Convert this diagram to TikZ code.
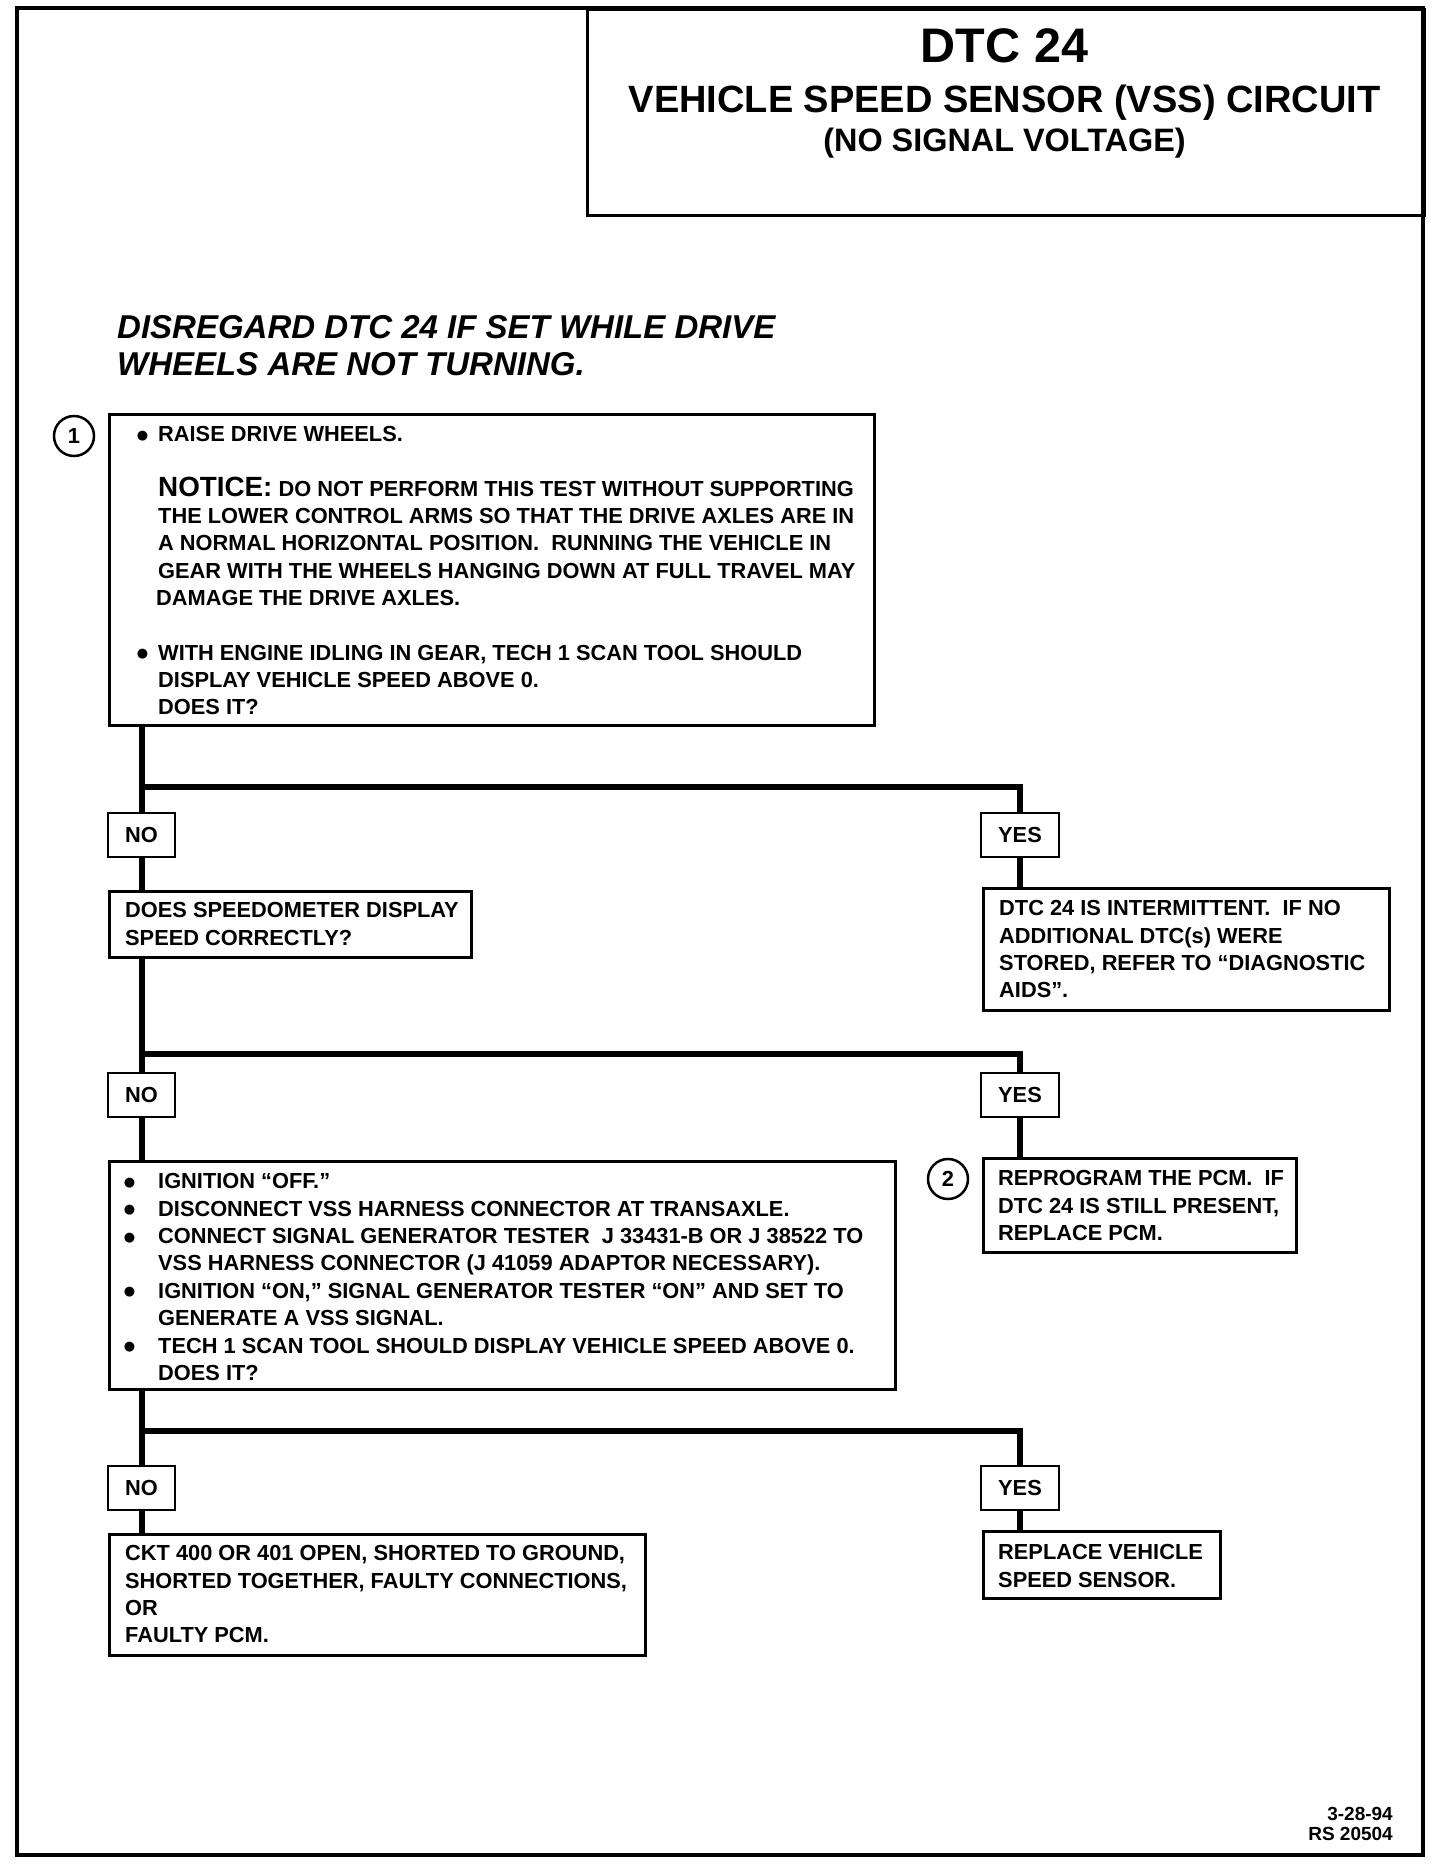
\documentclass[tikz,border=0pt]{standalone}
\usepackage{fontspec}
\setmainfont{Liberation Sans}
\newfontfamily\dotfont{DejaVu Sans}
\usepackage{tikz}
\usetikzlibrary{calc,positioning}
\newcommand\stepfont{\fontsize{21.8}{27.4}\selectfont\bfseries}
\newcommand\bigstep{\fontsize{27.8}{27.4}\selectfont}
\newcommand\bigdot{{\dotfont\fontsize{13}{27.4}\selectfont\raisebox{2.5pt}{●}}}
\newcommand\dotA{\llap{\bigdot\hspace{10pt}}}
\newcommand\dotB{\llap{\bigdot\hspace{23pt}}}
\tikzset{
  frame/.style={draw,line width=4pt},
  stepbox/.style={draw,line width=2.5pt,fill=white,inner sep=0pt,anchor=north west},
  steptext/.style={align=left,inner sep=0pt,anchor=north west,font=\stepfont},
  answer/.style={draw,line width=2.5pt,fill=white,inner xsep=17pt,inner ysep=0pt,
    minimum height=44pt,font=\stepfont},
  stepnum/.style={circle,draw,line width=2.5pt,minimum size=40pt,inner sep=0pt,font=\stepfont},
  flow/.style={line width=6pt,line join=miter},
  titletext/.style={anchor=base,inner sep=0pt,font=\bfseries}
}

\begin{document}
\begin{tikzpicture}[x=1pt,y=-1pt]
  \useasboundingbox (0,0) rectangle (1440,1866);
  \draw[frame] (17,8) rectangle (1423,1855);
  \node[draw,line width=3pt,anchor=north west,minimum width=837pt,minimum height=206pt] (title) at (586,8) {};
  \node[titletext,font=\fontsize{48.5}{50}\selectfont\bfseries] (dtc) at (1004.5,62.4) {DTC 24};
  \node[titletext,font=\fontsize{38}{40}\selectfont\bfseries] (vss) at (1004.5,112.6) {VEHICLE SPEED SENSOR (VSS) CIRCUIT};
  \node[titletext,font=\fontsize{32.4}{34}\selectfont\bfseries] (nosig) at (1004.5,151.6) {(NO SIGNAL VOLTAGE)};
  \node[align=left,inner sep=0pt,anchor=north west,font=\fontsize{33}{37}\selectfont\bfseries\itshape] (disregard) at (117,315)
    {DISREGARD DTC 24 IF SET WHILE DRIVE\\WHEELS ARE NOT TURNING.};

  % steps
  \node[stepbox,minimum width=765pt,minimum height=311pt] (raise) at (108,413) {};
  \node[steptext] (raisetxt) at ($(raise.north west)+(50,13.3)$) {%
    \dotA RAISE DRIVE WHEELS.\\[27pt]
    {\bigstep NOTICE:} DO NOT PERFORM THIS TEST WITHOUT SUPPORTING\\
    THE LOWER CONTROL ARMS SO THAT THE DRIVE AXLES ARE IN\\
    A NORMAL HORIZONTAL POSITION.\ \ RUNNING THE VEHICLE IN\\
    GEAR WITH THE WHEELS HANGING DOWN AT FULL TRAVEL MAY\\
    \hspace{-2pt}DAMAGE THE DRIVE AXLES.\\[27pt]
    \dotA WITH ENGINE IDLING IN GEAR, TECH 1 SCAN TOOL SHOULD\\
    DISPLAY VEHICLE SPEED ABOVE 0.\\
    DOES IT?};
  \node[stepnum] (one) at (74,436) {1};

  \node[stepbox,minimum width=362pt,minimum height=66pt] (speedo) at (108,890) {};
  \node[steptext] (speedotxt) at ($(speedo.north west)+(17,12.3)$) {DOES SPEEDOMETER DISPLAY\\SPEED CORRECTLY?};
  \node[stepbox,minimum width=406pt,minimum height=122pt] (intermit) at (982,887) {};
  \node[steptext] (intermittxt) at ($(intermit.north west)+(17,13.3)$) {%
    DTC 24 IS INTERMITTENT.\ \ IF NO\\ADDITIONAL DTC(s) WERE\\STORED, REFER TO “DIAGNOSTIC\\AIDS”.};

  \node[stepbox,minimum width=786pt,minimum height=228pt] (ignition) at (108,1160) {};
  \node[steptext] (ignitiontxt) at ($(ignition.north west)+(50,13.3)$) {%
    \dotB IGNITION “OFF.”\\
    \dotB DISCONNECT VSS HARNESS CONNECTOR AT TRANSAXLE.\\
    \dotB CONNECT SIGNAL GENERATOR TESTER\ \ J 33431-B OR J 38522 TO\\
    VSS HARNESS CONNECTOR (J 41059 ADAPTOR NECESSARY).\\
    \dotB IGNITION “ON,” SIGNAL GENERATOR TESTER “ON” AND SET TO\\
    GENERATE A VSS SIGNAL.\\
    \dotB TECH 1 SCAN TOOL SHOULD DISPLAY VEHICLE SPEED ABOVE 0.\\
    DOES IT?};
  \node[stepbox,minimum width=313pt,minimum height=94pt] (reprog) at (982,1157) {};
  \node[steptext] (reprogtxt) at ($(reprog.north west)+(16,13.3)$) {%
    REPROGRAM THE PCM.\ \ IF\\DTC 24 IS STILL PRESENT,\\REPLACE PCM.};
  \node[stepnum] (two) at (948,1179) {2};

  \node[stepbox,minimum width=536pt,minimum height=121pt] (ckt) at (108,1533) {};
  \node[steptext] (ckttxt) at ($(ckt.north west)+(17,12.3)$) {%
    CKT 400 OR 401 OPEN, SHORTED TO GROUND,\\SHORTED TOGETHER, FAULTY CONNECTIONS,\\OR\\FAULTY PCM.};
  \node[stepbox,minimum width=237pt,minimum height=67pt] (replace) at (982,1530) {};
  \node[steptext] (replacetxt) at ($(replace.north west)+(16,14.3)$) {REPLACE VEHICLE\\SPEED SENSOR.};

  % answers
  \foreach \name/\y in {A/835,B/1095,C/1488} {
    \node[answer] (no\name) at (141.5,\y) {NO};
    \node[answer] (yes\name) at (1020,\y) {YES};
  }

  \draw[flow] (raise.south -| noA.north) -- (noA.north);
  \draw[flow] ($(raise.south -| noA.north)+(0,60)$) -| (yesA.north);
  \draw[flow] (noA.south) -- (speedo.north -| noA.south);
  \draw[flow] (yesA.south) -- (intermit.north -| yesA.south);
  \draw[flow] (speedo.south -| noB.north) -- (noB.north);
  \draw[flow] ($(speedo.south -| noB.north)+(0,95)$) -| (yesB.north);
  \draw[flow] (noB.south) -- (ignition.north -| noB.south);
  \draw[flow] (yesB.south) -- (reprog.north -| yesB.south);
  \draw[flow] (ignition.south -| noC.north) -- (noC.north);
  \draw[flow] ($(ignition.south -| noC.north)+(0,40)$) -| (yesC.north);
  \draw[flow] (noC.south) -- (ckt.north -| noC.south);
  \draw[flow] (yesC.south) -- (replace.north -| yesC.south);

  \node[align=right,inner sep=0pt,anchor=north east,font=\fontsize{19}{20}\selectfont\bfseries] (stamp) at (1393,1807)
    {3-28-94\\RS 20504};
\end{tikzpicture}
\end{document}
